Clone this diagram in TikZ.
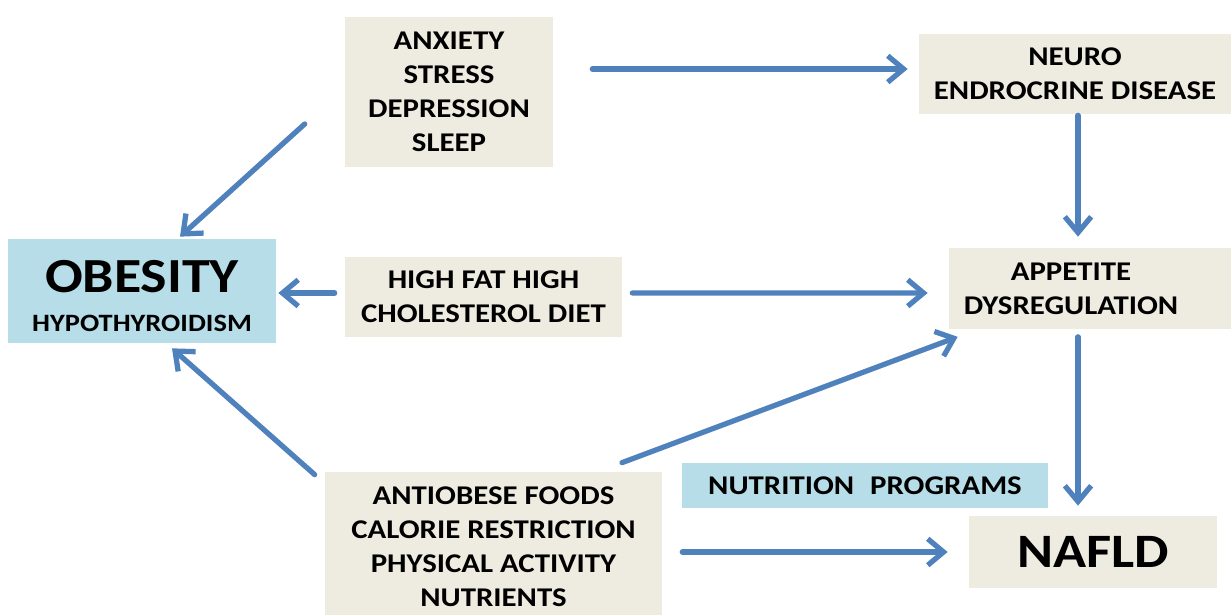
\documentclass[tikz,border=0pt]{standalone}
\usepackage{fontspec}
\setmainfont{Carlito}[FakeStretch=1.14]
\usetikzlibrary{arrows.meta, calc}
\definecolor{panelbeige}{RGB}{238,236,225}
\definecolor{panelblue}{RGB}{183,221,232}
\definecolor{arrowblue}{RGB}{79,129,189}

\begin{document}
\begin{tikzpicture}[
  x=0.02cm, y=-0.02cm,
  boxtext/.style={align=center, font=\bfseries\fontsize{15.4}{19.3}\selectfont},
  box/.style={boxtext, fill=panelbeige, inner sep=0pt},
  bluebox/.style={box, fill=panelblue},
  flow/.style={-{Straight Barb[length=9pt, width=15pt]}, line width=3pt, arrowblue, line cap=round, line join=round}
]
\useasboundingbox (0,0) rectangle (1231,615);

% boxes
\node[box, minimum width=4.16cm, minimum height=3cm] (anx) at (449,92) {ANXIETY\\STRESS\\DEPRESSION\\SLEEP};
\node[box, minimum width=6.24cm, minimum height=1.6cm] (neuro) at (1075,74) {NEURO\\ENDROCRINE DISEASE};
\node[bluebox, minimum width=5.36cm, minimum height=2.08cm,
  label={[boxtext, font=\bfseries\fontsize{14.2}{22.2}\selectfont, yshift=-0.1cm]center:{\fontsize{27.9}{22.2}\selectfont OBESITY}\\HYPOTHYROIDISM}] (ob) at (142,291) {};
\node[box, minimum width=5.54cm, minimum height=1.6cm] (hf) at (483.5,297) {HIGH FAT HIGH\\CHOLESTEROL DIET};
\node[box, minimum width=5.64cm, minimum height=1.62cm,
  label={[boxtext, xshift=-0.38cm]center:APPETITE\\DYSREGULATION}] (app) at (1090,288.5) {};
\node[box, minimum width=6.74cm, minimum height=3cm] (anti) at (493.5,547)
  {ANTIOBESE FOODS\\CALORIE RESTRICTION\\PHYSICAL ACTIVITY\\NUTRIENTS};
\node[bluebox, minimum width=7.32cm, minimum height=0.9cm] (nut) at (865,485.5) {NUTRITION\hspace{0.32cm}PROGRAMS};
\node[box, minimum width=4.96cm, minimum height=1.44cm, font=\bfseries\fontsize{27.3}{30}\selectfont] (nafld) at (1093,552) {NAFLD};

% arrows
\draw[flow] ($(anx.east)+(39,-23)$) -- ($(neuro.west)+(-11,-5)$);
\draw[flow] ($(neuro.south)+(3,1)$) -- ($(app.north)+(-12,-11)$);
\draw[flow] ($(anx.west)+(-40,32)$) -- ($(ob.north)+(38,-2)$);
\draw[flow] ($(hf.west)+(-10,-4)$) -- ($(ob.east)+(2,2)$);
\draw[flow] ($(hf.east)+(10,-4)$) -- ($(app.west)+(-21,4.5)$);
\draw[flow] ($(app.south)+(-12,7.5)$) -- ($(nafld.north)+(-15,-10)$);
\draw[flow] ($(anti.north west)+(-10,3)$) -- ($(ob.south)+(30,5)$);
\draw[flow] ($(anti.north)+(128.5,-9)$) -- ($(app.south west)+(9,7.5)$);
\draw[flow] ($(anti.east)+(20,5)$) -- ($(nafld.west)+(-21,0)$);
\end{tikzpicture}
\end{document}
